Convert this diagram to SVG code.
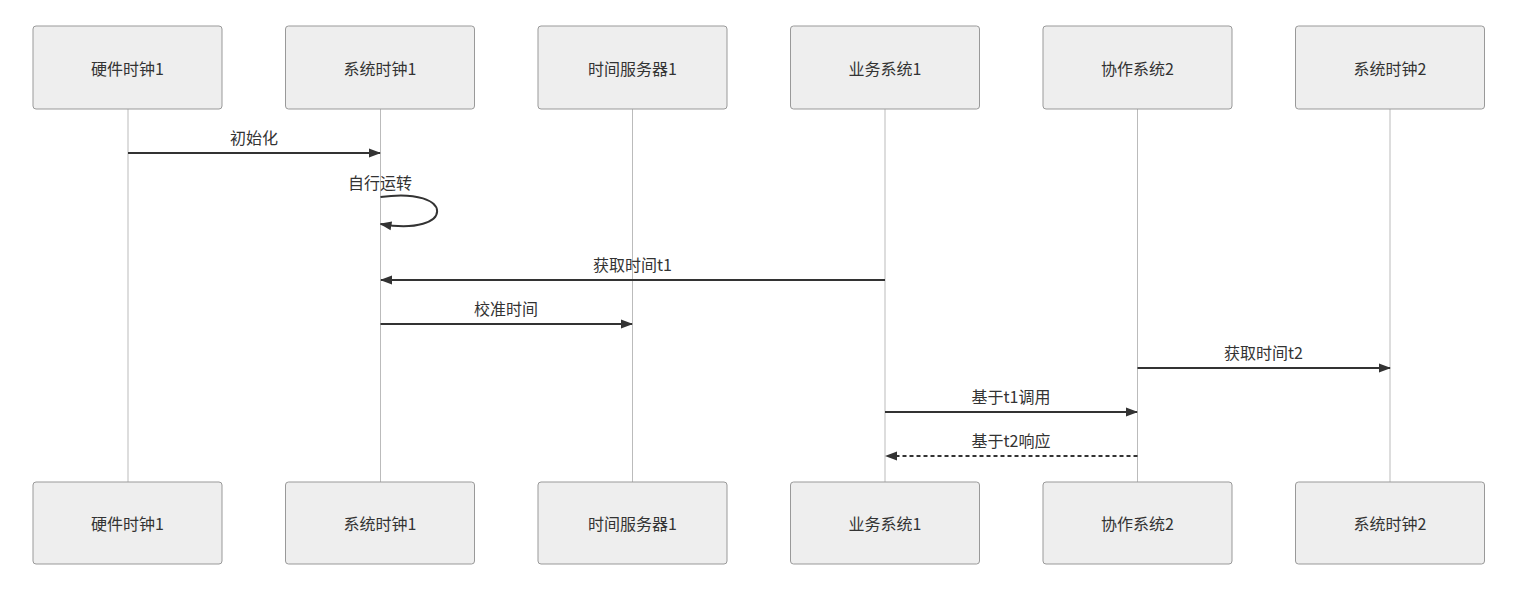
<svg xmlns="http://www.w3.org/2000/svg" width="1522" height="594" viewBox="0 0 1522 594">
<style>
.actor{fill:#eeeeee;stroke:#999999;stroke-width:1}
.life{stroke:#bbbbbb;stroke-width:1}
.t{font-family:"Noto Sans CJK SC","Liberation Sans",sans-serif;font-size:16px;fill:#333333;text-anchor:middle;dominant-baseline:central}
.msg{stroke:#333333;stroke-width:2;fill:none}
.dash{stroke-dasharray:4 3}
.mt{font-family:"Noto Sans CJK SC","Liberation Sans",sans-serif;font-size:16px;fill:#333333;text-anchor:middle}
</style>
<defs>
<marker id="ah2" viewBox="0 0 12 10" refX="11" refY="5" markerWidth="12" markerHeight="10" markerUnits="userSpaceOnUse" orient="auto">
<path d="M0,0.5 L12,5 L0,9.5 z" fill="#333333"/>
</marker>
</defs>
<g id="lifelines">
<line class="life" x1="128" y1="109" x2="128" y2="482"/>
<line class="life" x1="380.5" y1="109" x2="380.5" y2="482"/>
<line class="life" x1="632.5" y1="109" x2="632.5" y2="482"/>
<line class="life" x1="885" y1="109" x2="885" y2="482"/>
<line class="life" x1="1137.5" y1="109" x2="1137.5" y2="482"/>
<line class="life" x1="1390" y1="109" x2="1390" y2="482"/>
</g>
<g id="a1"><rect class="actor" x="33" y="26" width="189" height="83" rx="3"/><text class="t" x="127.5" y="68">硬件时钟1</text></g>
<g id="a2"><rect class="actor" x="285.5" y="26" width="189" height="83" rx="3"/><text class="t" x="380" y="68">系统时钟1</text></g>
<g id="a3"><rect class="actor" x="538" y="26" width="189" height="83" rx="3"/><text class="t" x="632.5" y="68">时间服务器1</text></g>
<g id="a4"><rect class="actor" x="790.5" y="26" width="189" height="83" rx="3"/><text class="t" x="885" y="68">业务系统1</text></g>
<g id="a5"><rect class="actor" x="1043" y="26" width="189" height="83" rx="3"/><text class="t" x="1137.5" y="68">协作系统2</text></g>
<g id="a6"><rect class="actor" x="1295.5" y="26" width="189" height="83" rx="3"/><text class="t" x="1390" y="68">系统时钟2</text></g>
<g id="b1"><rect class="actor" x="33" y="482" width="189" height="82" rx="3"/><text class="t" x="127.5" y="523">硬件时钟1</text></g>
<g id="b2"><rect class="actor" x="285.5" y="482" width="189" height="82" rx="3"/><text class="t" x="380" y="523">系统时钟1</text></g>
<g id="b3"><rect class="actor" x="538" y="482" width="189" height="82" rx="3"/><text class="t" x="632.5" y="523">时间服务器1</text></g>
<g id="b4"><rect class="actor" x="790.5" y="482" width="189" height="82" rx="3"/><text class="t" x="885" y="523">业务系统1</text></g>
<g id="b5"><rect class="actor" x="1043" y="482" width="189" height="82" rx="3"/><text class="t" x="1137.5" y="523">协作系统2</text></g>
<g id="b6"><rect class="actor" x="1295.5" y="482" width="189" height="82" rx="3"/><text class="t" x="1390" y="523">系统时钟2</text></g>
<g id="connectors">
<line class="msg" x1="128" y1="153" x2="380" y2="153" marker-end="url(#ah2)"/>
<path class="msg" d="M380.5,197 C456,186 456,237 380.5,224" stroke-width="1.8" marker-end="url(#ah2)"/>
<line class="msg" x1="885" y1="280" x2="381" y2="280" marker-end="url(#ah2)"/>
<line class="msg" x1="380.5" y1="324" x2="632" y2="324" marker-end="url(#ah2)"/>
<line class="msg" x1="1137.5" y1="368" x2="1390" y2="368" marker-end="url(#ah2)"/>
<line class="msg" x1="885" y1="412" x2="1137" y2="412" marker-end="url(#ah2)"/>
<line class="msg dash" x1="1137.5" y1="456" x2="886" y2="456" marker-end="url(#ah2)"/>
</g>
<g id="labels">
<text class="mt" x="254" y="144">初始化</text>
<text class="mt" x="380" y="189">自行运转</text>
<text class="mt" x="632.5" y="271">获取时间t1</text>
<text class="mt" x="506" y="315">校准时间</text>
<text class="mt" x="1263.5" y="359">获取时间t2</text>
<text class="mt" x="1011" y="403">基于t1调用</text>
<text class="mt" x="1011" y="447">基于t2响应</text>
</g>
</svg>
